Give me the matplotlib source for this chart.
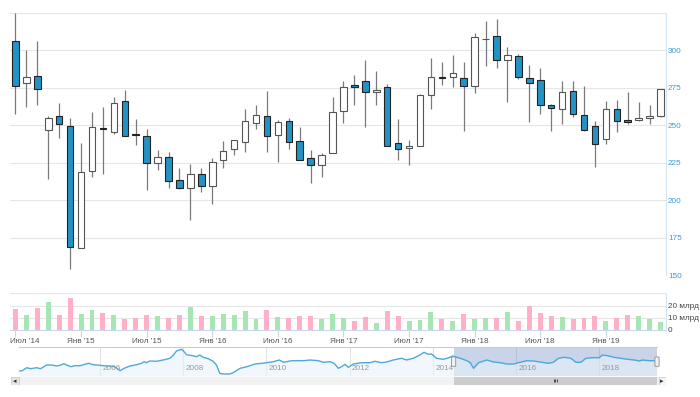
import numpy as np
import matplotlib
matplotlib.use('Agg')
import matplotlib.pyplot as plt
import matplotlib.transforms as mtransforms
from matplotlib.patches import FancyBboxPatch, Rectangle

plt.rcParams['font.family'] = ['Liberation Sans', 'DejaVu Sans']

# monthly candles, Jul 2014 .. Jun 2019
opens = [306.4, 278.0, 282.7, 247.1, 256.4, 249.6, 168.2, 219.8, 248.0, 245.3,
         266.0, 244.0, 243.1, 224.7, 229.1, 213.8, 208.0, 217.8, 209.8, 227.1,
         234.4, 238.7, 251.8, 256.4, 243.6, 252.9, 239.3, 228.4, 223.8, 231.8,
         259.8, 277.0, 279.8, 272.2, 275.3, 238.2, 234.9, 236.4, 270.4, 282.0,
         282.2, 281.6, 276.0, 307.4, 309.6, 293.8, 296.0, 281.6, 280.4, 263.6,
         261.1, 272.9, 256.9, 249.3, 240.9, 260.7, 253.3, 253.6, 254.7, 256.4]
closes = [276.2, 282.0, 274.0, 254.9, 251.1, 169.0, 219.0, 248.9, 247.4, 264.9,
          242.9, 243.4, 224.7, 228.7, 212.7, 208.0, 217.3, 209.8, 225.8, 233.1,
          240.0, 253.1, 256.9, 242.9, 252.0, 238.9, 227.1, 223.3, 230.0, 258.7,
          275.6, 275.8, 272.2, 273.8, 236.2, 234.2, 236.2, 270.0, 282.0, 281.6,
          284.7, 276.0, 309.1, 307.8, 293.6, 296.7, 282.4, 278.0, 263.6, 261.6,
          272.4, 257.6, 247.1, 237.8, 260.7, 252.7, 252.4, 255.1, 256.0, 274.0]
highs = [325.0, 300.2, 306.4, 256.4, 264.7, 254.9, 238.4, 258.9, 262.4, 268.7,
         273.6, 254.4, 247.3, 233.3, 232.2, 221.8, 224.0, 221.8, 228.0, 239.6,
         240.5, 260.7, 263.3, 273.1, 253.6, 254.7, 248.9, 233.8, 231.8, 268.9,
         279.8, 283.6, 293.6, 286.2, 277.6, 254.0, 240.2, 271.1, 294.7, 292.2,
         296.9, 292.2, 311.8, 319.6, 321.1, 302.4, 297.6, 290.4, 288.0, 264.2,
         279.6, 279.6, 276.0, 253.1, 266.0, 266.9, 272.0, 265.3, 263.3, 274.4]
lows = [257.6, 262.0, 263.3, 214.4, 241.3, 154.2, 168.2, 215.3, 217.8, 244.2,
        242.9, 237.1, 206.7, 220.0, 208.4, 207.6, 186.9, 205.3, 197.8, 221.8,
        230.2, 232.0, 247.8, 232.4, 225.3, 234.0, 227.1, 211.8, 215.3, 231.8,
        251.8, 263.6, 249.1, 263.3, 236.2, 226.9, 223.3, 236.4, 260.9, 276.7,
        275.3, 246.1, 271.3, 289.6, 288.4, 265.6, 280.7, 252.0, 257.6, 246.1,
        250.9, 255.3, 246.1, 222.4, 237.6, 245.8, 250.9, 252.7, 251.1, 255.3]
# volume, billions
volumes = [17.1, 12.2, 18.2, 22.6, 12.2, 26.4, 13.0, 16.6, 13.6, 12.5,
           9.0, 9.8, 12.2, 11.1, 10.0, 12.2, 18.5, 11.1, 11.7, 13.3,
           12.2, 15.2, 8.7, 16.6, 10.6, 9.8, 11.7, 11.7, 9.2, 13.3,
           9.8, 7.3, 10.9, 5.4, 15.2, 11.7, 7.3, 8.2, 14.7, 8.7,
           7.3, 13.3, 9.2, 9.8, 9.8, 14.7, 7.6, 19.6, 13.6, 11.1,
           10.6, 8.7, 9.8, 11.7, 7.6, 9.8, 12.5, 11.1, 9.2, 6.3]

xtick_pos = [0, 6, 12, 18, 24, 30, 36, 42, 48, 54]
xtick_labels = ["Июл '14", "Янв '15", "Июл '15", "Янв '16", "Июл '16",
                "Янв '17", "Июл '17", "Янв '18", "Июл '18", "Янв '19"]
price_ticks = [150, 175, 200, 225, 250, 275, 300]
vol_ticks = [0, 10, 20]
vol_labels = ['0', '10 млрд', '20 млрд']

# navigator series (decimal year, relative level)
nav_t = [2004.06, 2004.13, 2004.24, 2004.33, 2004.48, 2004.57, 2004.72, 2004.84, 2004.96, 2005.04,
         2005.13, 2005.2, 2005.3, 2005.4, 2005.52, 2005.64, 2005.72, 2005.84, 2006.0, 2006.16,
         2006.32, 2006.4, 2006.48, 2006.6, 2006.72, 2006.88, 2007.0, 2007.06, 2007.12, 2007.2,
         2007.36, 2007.52, 2007.68, 2007.76, 2007.84, 2007.96, 2008.0, 2008.08, 2008.23, 2008.32,
         2008.4, 2008.48, 2008.6, 2008.72, 2008.8, 2008.88, 2008.96, 2009.12, 2009.2, 2009.37,
         2009.53, 2009.73, 2009.89, 2010.0, 2010.17, 2010.31, 2010.41, 2010.61, 2010.89, 2011.05,
         2011.25, 2011.37, 2011.53, 2011.63, 2011.73, 2011.81, 2011.89, 2011.97, 2012.09, 2012.29,
         2012.49, 2012.61, 2012.77, 2012.89, 2013.05, 2013.25, 2013.37, 2013.53, 2013.69, 2013.79,
         2013.89, 2013.97, 2014.09, 2014.25, 2014.37, 2014.48, 2014.66, 2014.82, 2014.9, 2014.98,
         2015.1, 2015.3, 2015.46, 2015.62, 2015.78, 2015.94, 2016.06, 2016.26, 2016.42, 2016.58,
         2016.78, 2016.9, 2017.02, 2017.16, 2017.32, 2017.44, 2017.56, 2017.68, 2017.84, 2018.0,
         2018.08, 2018.2, 2018.36, 2018.52, 2018.68, 2018.84, 2018.96, 2019.04, 2019.2, 2019.39]
nav_v = [5.0, 5.3, 8.3, 7.3, 8.3, 7.3, 11.0, 11.0, 10.0, 10.7,
         12.3, 11.0, 9.3, 10.3, 10.3, 11.7, 12.7, 11.3, 10.7, 10.0,
         9.7, 8.0, 5.3, 8.0, 10.0, 11.3, 12.7, 14.3, 13.3, 15.0,
         14.7, 16.0, 17.7, 20.7, 25.0, 26.7, 25.3, 21.3, 20.3, 19.3,
         21.0, 18.7, 17.3, 14.7, 11.0, 2.7, 2.0, 2.0, 3.3, 7.7,
         9.3, 12.0, 12.7, 13.3, 14.3, 16.0, 13.7, 15.3, 15.3, 16.0,
         15.3, 13.7, 14.3, 12.7, 7.7, 9.3, 11.7, 8.7, 12.0, 13.3,
         13.3, 14.7, 13.3, 14.0, 16.0, 17.7, 16.0, 17.7, 21.0, 23.7,
         21.7, 22.0, 17.7, 16.7, 18.0, 20.0, 17.7, 15.3, 13.3, 7.7,
         13.3, 16.0, 14.0, 13.3, 12.0, 12.0, 13.3, 15.3, 15.0, 14.0,
         12.7, 13.7, 17.7, 18.7, 17.7, 13.7, 13.7, 17.7, 18.3, 18.3,
         21.0, 20.3, 18.7, 17.7, 16.7, 16.0, 15.0, 16.0, 15.3, 15.3]
nav_years = [2006, 2008, 2010, 2012, 2014, 2016, 2018]
sel_start, sel_end = 2014.5, 2019.39

BLUE = '#2393c6'
GRID = '#e6e6e6'
AXIS = '#ccd6eb'

W, H = 700, 397
fig = plt.figure(figsize=(W / 100, H / 100), dpi=100)


def box(x0, y0, x1, y1):
    # pixel box -> figure fraction
    return [x0 / W, 1 - y1 / H, (x1 - x0) / W, (y1 - y0) / H]


x = np.arange(len(opens))
o = np.array(opens)
c = np.array(closes)
up = c >= o

# ---- price panel
ax = fig.add_axes(box(10, 12.8, 666, 275.3))
ax.set_xlim(-0.5, len(x) - 0.5)
ax.set_ylim(150, 325)
for v in price_ticks + [325]:
    ax.axhline(v, color=GRID, lw=0.8, zorder=0)
ax.vlines(x, lows, highs, color='#7a7a7a', lw=0.9, zorder=1)
bottoms = np.minimum(o, c)
heights = np.maximum(np.abs(c - o), 0.3)
ax.bar(x[up], heights[up], bottom=bottoms[up], width=0.6, color='white',
       edgecolor='#555555', lw=0.8, zorder=2)
ax.bar(x[~up], heights[~up], bottom=bottoms[~up], width=0.6, color=BLUE,
       edgecolor='#222222', lw=0.8, zorder=2)
ax.yaxis.tick_right()
ax.set_yticks(price_ticks)
ax.tick_params(axis='y', length=0, pad=1.5, labelsize=5.9, labelcolor='#3a9ad6')
ax.set_xticks([])
for s in ['top', 'left', 'bottom']:
    ax.spines[s].set_visible(False)
ax.spines['right'].set_color('#d3e4f3')

# ---- volume panel
axv = fig.add_axes(box(10, 293.3, 666, 330))
axv.set_xlim(-0.5, len(x) - 0.5)
axv.set_ylim(0, 30)
for v in [10, 20, 30]:
    axv.axhline(v, color=GRID, lw=0.8, zorder=0)
vol = np.array(volumes)
axv.bar(x[up], vol[up], width=0.45, color='#a6e6b5', zorder=2)
axv.bar(x[~up], vol[~up], width=0.45, color='#ffb0c8', zorder=2)
axv.yaxis.tick_right()
axv.set_yticks(vol_ticks)
axv.set_yticklabels(vol_labels)
axv.tick_params(axis='y', length=0, pad=1.5, labelsize=5.9, labelcolor='#444444')
axv.set_xticks(xtick_pos)
axv.set_xticklabels(xtick_labels)
axv.tick_params(axis='x', length=5, width=0.8, color=AXIS, labelsize=5.9,
                labelcolor='#555555', pad=1.0)
first = axv.get_xticklabels()[0]
first.set_ha('left')
first.set_transform(first.get_transform() +
                    mtransforms.ScaledTranslation(-5 / 100, 0, fig.dpi_scale_trans))
for s in ['top', 'left']:
    axv.spines[s].set_visible(False)
axv.spines['right'].set_color('#d3e4f3')
axv.spines['bottom'].set_color(AXIS)

# ---- navigator
axn = fig.add_axes(box(19.3, 346.7, 657, 376))
axn.set_xlim(nav_t[0], nav_t[-1])
axn.set_ylim(0, 29.3)
axn.fill_between(nav_t, nav_v, 0, color='#e8f3fa', alpha=0.6, lw=0)
axn.plot(nav_t, nav_v, color='#4fa8da', lw=1.0)
for yr in nav_years:
    axn.axvline(yr, color='#e2e2e2', lw=0.8, zorder=0)
    axn.text(yr + 0.06, 0.14, str(yr), transform=axn.get_xaxis_transform(),
             fontsize=5.9, color='#999999', ha='left', va='bottom')
axn.axvspan(sel_start, sel_end, color='#6685c2', alpha=0.35, lw=0, zorder=0.5)
for hx in [sel_start, sel_end]:
    axn.add_patch(FancyBboxPatch((hx - 0.05, 0.33), 0.1, 0.32,
                                 boxstyle='round,pad=0,rounding_size=0.02',
                                 transform=axn.get_xaxis_transform(),
                                 facecolor='#f2f2f2', edgecolor='#999999',
                                 lw=0.7, zorder=5, clip_on=False))
axn.set_xticks([])
axn.set_yticks([])
for s in ['left', 'right', 'bottom']:
    axn.spines[s].set_visible(False)
axn.spines['top'].set_color('#cccccc')
axn.spines['top'].set_linewidth(0.8)

# ---- scrollbar
axs = fig.add_axes(box(11, 376.5, 666, 385))
axs.set_xlim(11, 666)
axs.set_ylim(0, 1)
axs.add_patch(Rectangle((11, 0), 655, 1, color='#f2f2f2', lw=0))
thumb_x0 = 19.3 + (sel_start - nav_t[0]) / (nav_t[-1] - nav_t[0]) * (657 - 19.3)
axs.add_patch(Rectangle((thumb_x0, 0), 657 - thumb_x0, 1, color='#cccccc', lw=0))
axs.add_patch(Rectangle((11, 0.05), 8, 0.9, facecolor='#e6e6e6',
                        edgecolor='#cccccc', lw=0.6))
axs.add_patch(Rectangle((658.5, 0.05), 7.5, 0.9, facecolor='#f4f4f4',
                        edgecolor='#cccccc', lw=0.6))
axs.text(15, 0.5, '◂', fontsize=5, color='#333333', ha='center', va='center',
         family='DejaVu Sans')
axs.text(662.2, 0.5, '▸', fontsize=5, color='#333333', ha='center', va='center',
         family='DejaVu Sans')
mid = (thumb_x0 + 657) / 2
axs.vlines([mid - 1.5, mid, mid + 1.5], 0.35, 0.65, color='#333333', lw=0.6)
axs.axis('off')

fig.savefig('out.png', dpi=100)
